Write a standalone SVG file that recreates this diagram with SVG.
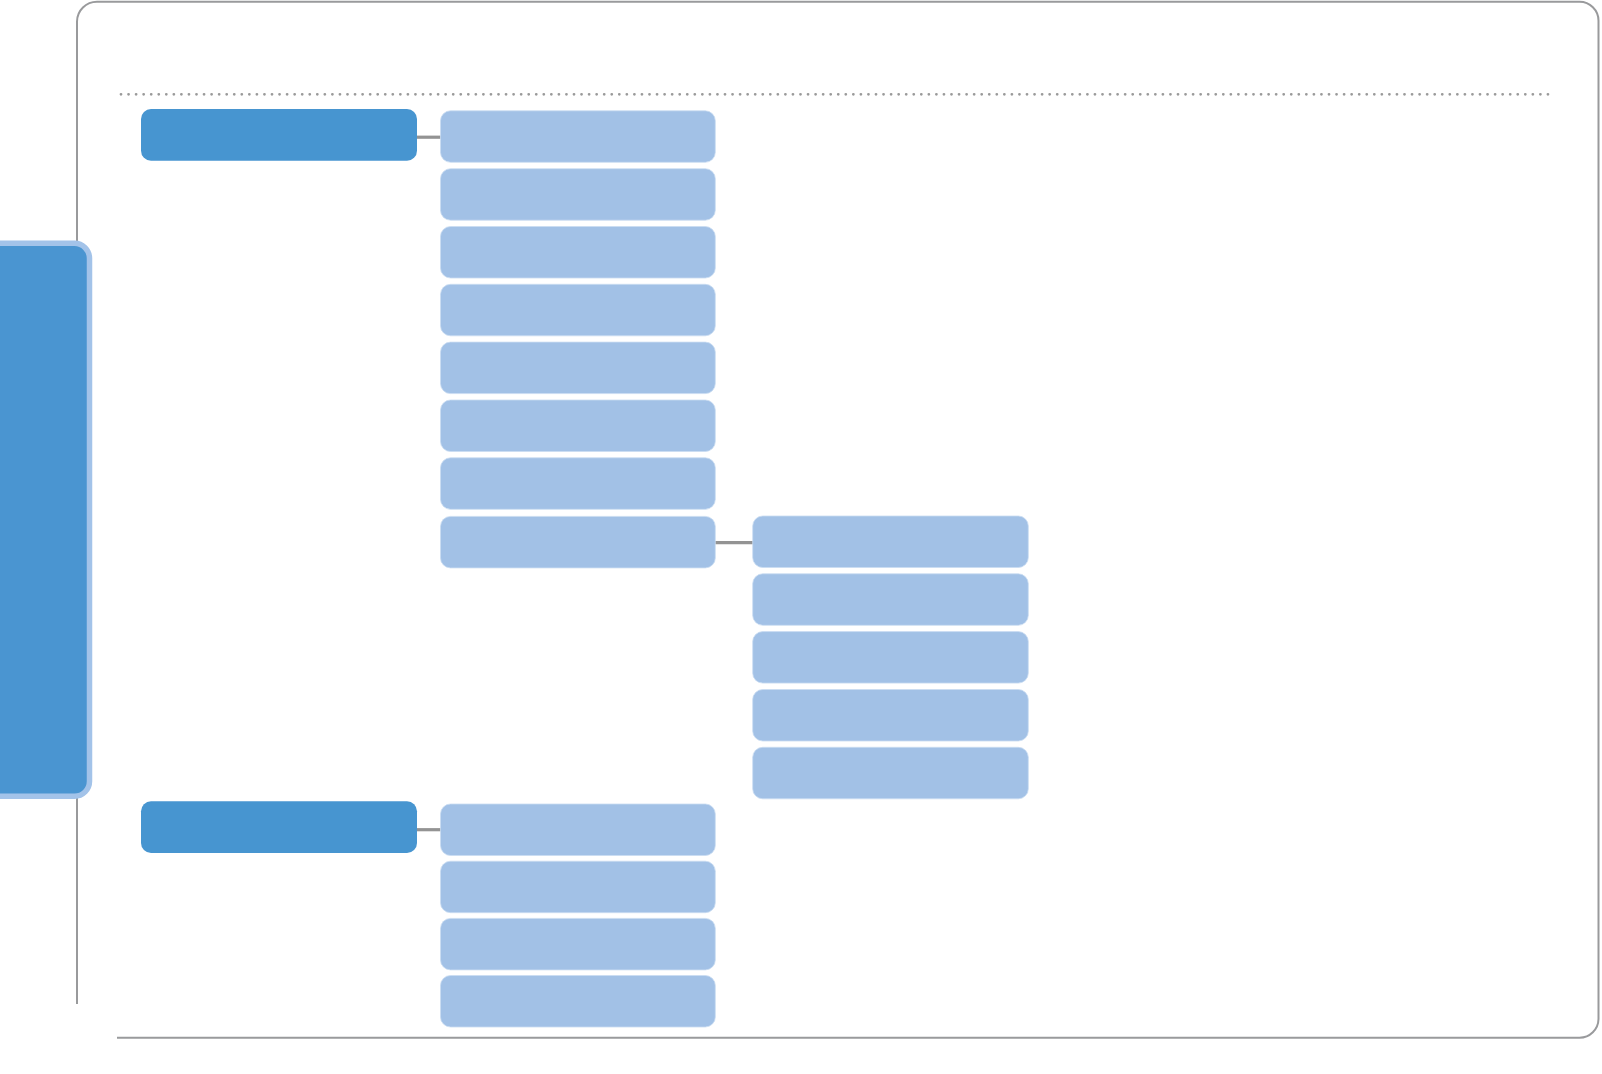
<svg xmlns="http://www.w3.org/2000/svg" width="1602" height="1074" viewBox="0 0 1602 1074">
<style>
.frame{fill:none;stroke:#999a9c;stroke-width:2}
.dots{fill:none;stroke:#9a9a9a;stroke-width:2.8;stroke-linecap:round;stroke-dasharray:0 7.55}
.dark{fill:#4795d0}
.light{fill:#a2c1e6;stroke:#c9dcf1;stroke-width:0.8}
.conn{stroke:#939393;stroke-width:3.2;fill:none}
.tab{fill:#4a95d1;stroke:#a3c3e9;stroke-width:5.5}
</style>
<rect width="1602" height="1074" fill="#ffffff"/>
<g id="frame">
<path class="frame" d="M77,1004 V21.5 A20,20 0 0 1 97,1.7 H1579 A19,19 0 0 1 1598.5,21 V1019 A19,19 0 0 1 1579.5,1037.7 H117"/>
<line class="dots" x1="121" y1="94.3" x2="1550" y2="94.3"/>
</g>
<g id="side-tab">
<rect class="tab" x="-30" y="243.3" width="119.5" height="553" rx="15" ry="15"/>
</g>
<g id="connectors">
<line class="conn" x1="416" y1="137.2" x2="441" y2="137.2"/>
<line class="conn" x1="714" y1="542.7" x2="753.5" y2="542.7"/>
<line class="conn" x1="416" y1="829.7" x2="441" y2="829.7"/>
</g>
<g id="root-1"><rect class="dark" x="141" y="109" width="276" height="51.7" rx="10"/></g>
<g id="root-2"><rect class="dark" x="141" y="801.3" width="276" height="51.7" rx="10"/></g>
<g id="n1-1"><rect class="light" x="440.5" y="110.8" width="274.8" height="51.5" rx="10"/></g>
<g id="n1-2"><rect class="light" x="440.5" y="168.7" width="274.8" height="51.5" rx="10"/></g>
<g id="n1-3"><rect class="light" x="440.5" y="226.5" width="274.8" height="51.5" rx="10"/></g>
<g id="n1-4"><rect class="light" x="440.5" y="284.3" width="274.8" height="51.5" rx="10"/></g>
<g id="n1-5"><rect class="light" x="440.5" y="342.1" width="274.8" height="51.5" rx="10"/></g>
<g id="n1-6"><rect class="light" x="440.5" y="400" width="274.8" height="51.5" rx="10"/></g>
<g id="n1-7"><rect class="light" x="440.5" y="457.8" width="274.8" height="51.5" rx="10"/></g>
<g id="n1-8"><rect class="light" x="440.5" y="516.4" width="274.8" height="51.5" rx="10"/></g>
<g id="n2-1"><rect class="light" x="752.7" y="516" width="275.6" height="51.5" rx="10"/></g>
<g id="n2-2"><rect class="light" x="752.7" y="573.8" width="275.6" height="51.5" rx="10"/></g>
<g id="n2-3"><rect class="light" x="752.7" y="631.6" width="275.6" height="51.5" rx="10"/></g>
<g id="n2-4"><rect class="light" x="752.7" y="689.5" width="275.6" height="51.5" rx="10"/></g>
<g id="n2-5"><rect class="light" x="752.7" y="747.3" width="275.6" height="51.5" rx="10"/></g>
<g id="n3-1"><rect class="light" x="440.5" y="804" width="274.8" height="51.5" rx="10"/></g>
<g id="n3-2"><rect class="light" x="440.5" y="861.2" width="274.8" height="51.5" rx="10"/></g>
<g id="n3-3"><rect class="light" x="440.5" y="918.4" width="274.8" height="51.5" rx="10"/></g>
<g id="n3-4"><rect class="light" x="440.5" y="975.5" width="274.8" height="51.5" rx="10"/></g>
</svg>
